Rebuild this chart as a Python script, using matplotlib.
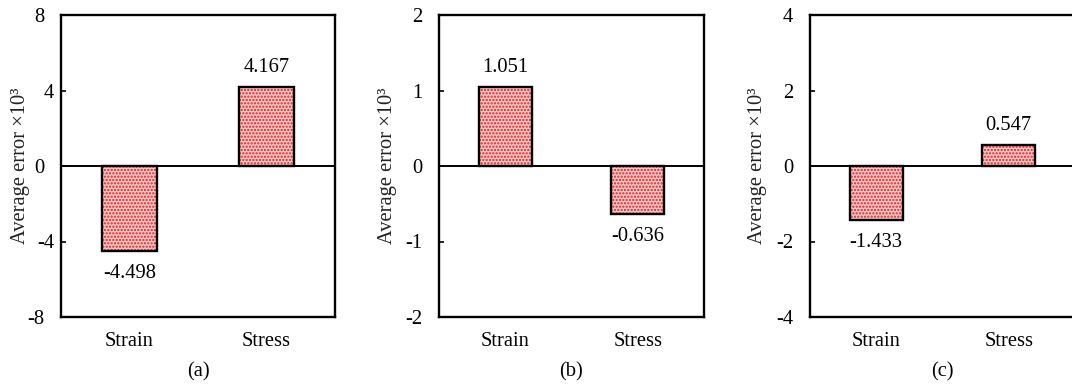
import matplotlib
matplotlib.use("Agg")
import matplotlib.pyplot as plt
from matplotlib.ticker import FixedLocator
import matplotlib.transforms as mtransforms

# Average errors (x10^3) for each case
categories = ["Strain", "Stress"]
errors_a = [-4.498, 4.167]
errors_b = [1.051, -0.636]
errors_c = [-1.433, 0.547]
panel_tags = ["(a)", "(b)", "(c)"]
y_limits = [8, 2, 4]
y_steps = [4, 1, 2]

plt.rcParams["font.family"] = ["Liberation Serif", "DejaVu Serif"]
plt.rcParams["hatch.linewidth"] = 1.1

fig = plt.figure(figsize=(10.72, 3.89), dpi=100)

positions = [
    [61 / 1072, 72 / 389, 274 / 1072, 302 / 389],
    [439 / 1072, 72 / 389, 265 / 1072, 302 / 389],
    [810 / 1072, 72 / 389, 265 / 1072, 302 / 389],
]
label_x = [-0.113, -0.158, -0.162]
fs = 14.8

for i, vals in enumerate([errors_a, errors_b, errors_c]):
    ax = fig.add_axes(positions[i])
    x = list(range(len(categories)))
    # dotted red fill, then black outline on top
    ax.bar(x, vals, width=0.4, color="#f7c8c8", edgecolor="#e02020",
           hatch=".....", linewidth=0, zorder=2)
    ax.bar(x, vals, width=0.4, fill=False, edgecolor="black",
           linewidth=1.7, zorder=3)
    ax.axhline(0, color="black", linewidth=1.4, zorder=4)

    lim = y_limits[i]
    step = y_steps[i]
    ax.set_ylim(-lim, lim)
    ax.set_xlim(-0.5, 1.5)
    ticks = [t * step for t in range(-2, 3)]
    ax.yaxis.set_major_locator(FixedLocator(ticks))
    ax.set_yticklabels([f"{t:g}" for t in ticks])
    ax.set_xticks(x)
    ax.set_xticklabels(categories)
    ax.tick_params(axis="y", direction="in", length=3.5, width=1.2,
                   labelsize=fs, pad=12)
    ax.tick_params(axis="x", length=0, labelsize=fs, pad=11)
    for sp in ax.spines.values():
        sp.set_linewidth(1.7)

    # the +/-4 labels of the first panel sit closer to the axis
    if i == 0:
        shift = mtransforms.ScaledTranslation(10 / 100, 0, fig.dpi_scale_trans)
        for tk in ax.yaxis.get_major_ticks():
            if abs(abs(tk.get_loc()) - 4) < 1e-9:
                tk.label1.set_transform(tk.label1.get_transform() + shift)

    ax.set_ylabel("Average error ×10³", fontsize=fs, color="#222222")
    ax.yaxis.set_label_coords(label_x[i], 0.5)

    for xi, v in zip(x, vals):
        off = 14 if v > 0 else -16
        ax.annotate(f"{v:.3f}", (xi, v), xytext=(0, off),
                    textcoords="offset points", ha="center",
                    va="center", fontsize=fs)

    ax.text(0.5, -0.18, panel_tags[i], transform=ax.transAxes,
            ha="center", va="center", fontsize=fs)

fig.savefig("out.png", dpi=100)
